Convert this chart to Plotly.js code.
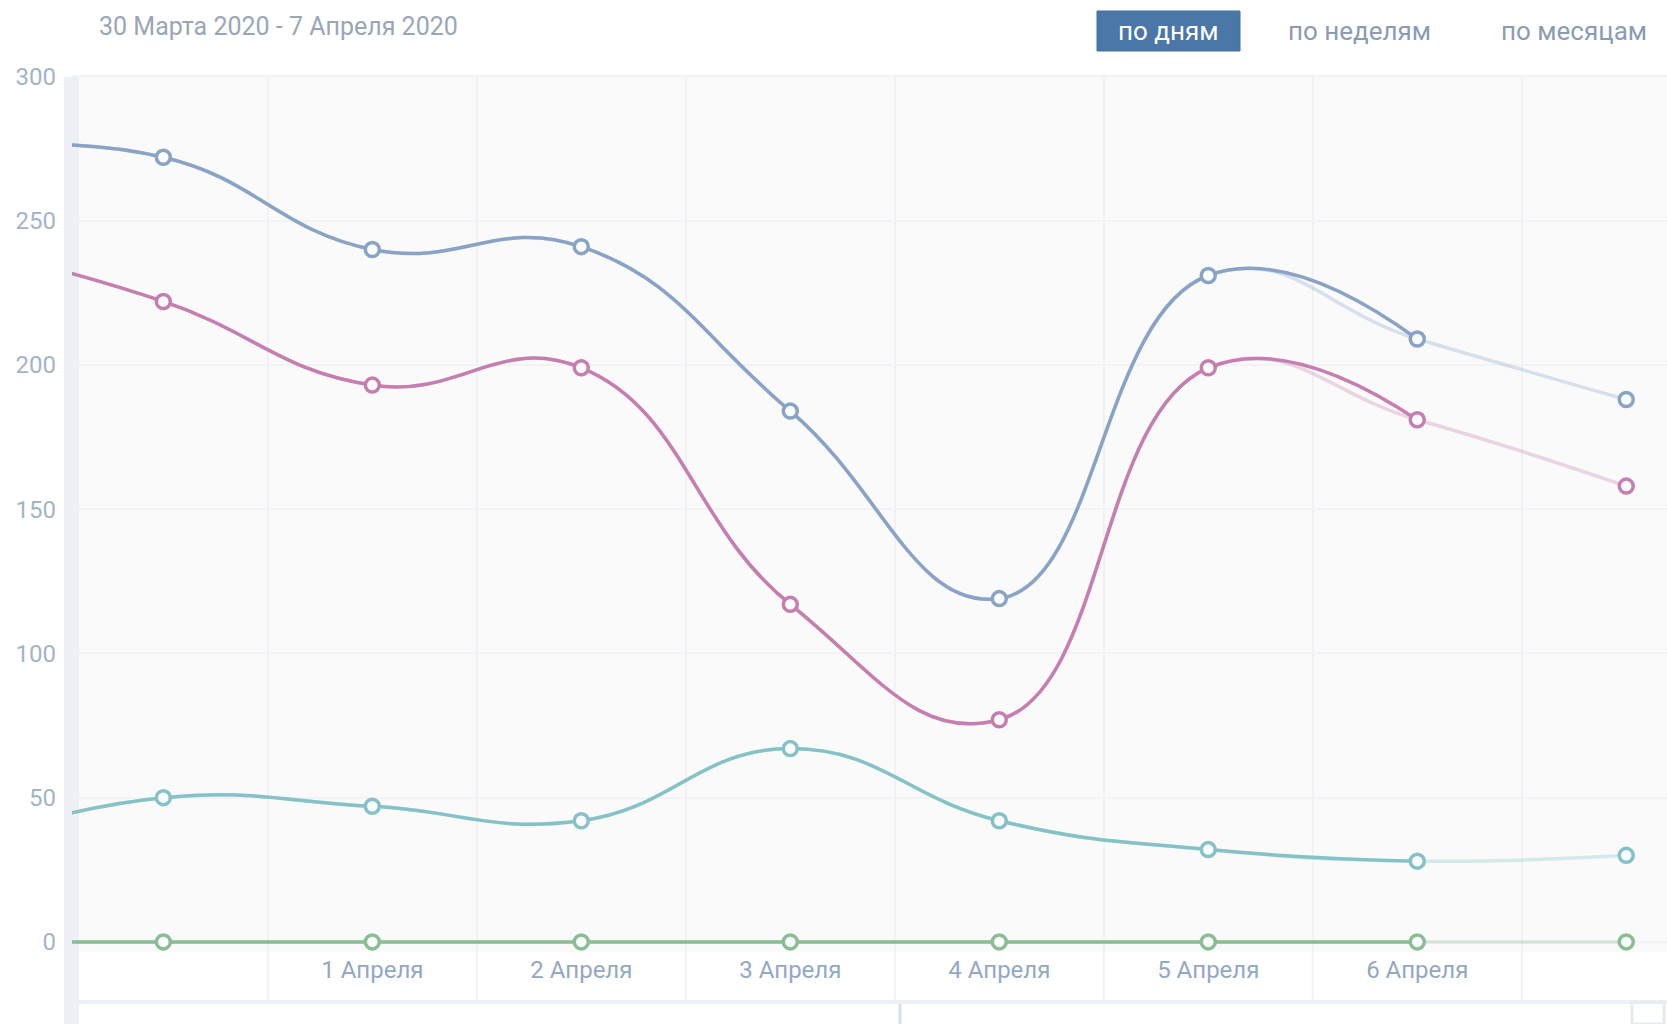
<!DOCTYPE html>
<html>
<head>
<meta charset="utf-8">
<script src="https://cdn.plot.ly/plotly-3.0.1.min.js"></script>
<style>
  html, body { margin: 0; padding: 0; background: #ffffff; }
  #chart { width: 1667px; height: 1024px; }
</style>
</head>
<body>
<div id="chart"></div>
<script>
// ---- data ----
const dayIndex = [0, 1, 2, 3, 4, 5, 6, 7, 8];
const dayLabels = ['30 Марта', '31 Марта', '1 Апреля', '2 Апреля', '3 Апреля', '4 Апреля', '5 Апреля', '6 Апреля', '7 Апреля'];
const shownTickIndex = [2, 3, 4, 5, 6, 7];
const shownTickText = ['1 Апреля', '2 Апреля', '3 Апреля', '4 Апреля', '5 Апреля', '6 Апреля'];
const yTickValues = [0, 50, 100, 150, 200, 250, 300];

const seriesNames = ['Полный охват', 'Охват подписчиков', 'Виральный охват', 'Рекламный охват'];
const fullReach = [275, 272, 240, 241, 184, 119, 231, 209, 188];
const subscriberReach = [242, 222, 193, 199, 117, 77, 199, 181, 158];
const viralReach = [33, 50, 47, 42, 67, 42, 32, 28, 30];
const adReach = [0, 0, 0, 0, 0, 0, 0, 0, 0];

const titleText = '30 Марта 2020 - 7 Апреля 2020';
const periodButtons = ['по дням', 'по неделям', 'по месяцам'];

// ---- styling ----
const FONT = 'Roboto, sans-serif';
const colors = ['#88a3c6', '#c67daf', '#84c2c8', '#8bbd95'];
const allSeries = [fullReach, subscriberReach, viralReach, adReach];
const completeCount = 8; // last day is shown faded
const SMOOTH = 1.3;

const traces = [];
allSeries.forEach((vals, k) => {
  traces.push({
    x: dayIndex, y: vals, type: 'scatter', mode: 'lines',
    line: { color: colors[k], width: 3.5, shape: 'spline', smoothing: SMOOTH },
    opacity: 0.3, hoverinfo: 'skip', showlegend: false, name: seriesNames[k]
  });
  traces.push({
    x: dayIndex.slice(0, completeCount), y: vals.slice(0, completeCount),
    type: 'scatter', mode: 'lines',
    line: { color: colors[k], width: 3.5, shape: 'spline', smoothing: SMOOTH },
    showlegend: false, name: seriesNames[k]
  });
  traces.push({
    x: dayIndex, y: vals, type: 'scatter', mode: 'markers',
    marker: { symbol: 'circle', size: 14, color: '#fbfcfd', line: { color: colors[k], width: 3.5 } },
    showlegend: false, name: seriesNames[k]
  });
});

const W = 1667, H = 1024, mL = 72, mR = 0, mT = 75, mB = 72;
const pw = W - mL - mR, ph = H - mT - mB;
const px = (X) => (X - mL) / pw;
const py = (Y) => (H - mB - Y) / ph;

const gridHalf = [0.5, 1.5, 2.5, 3.5, 4.5, 5.5, 6.5, 7.5];

const shapes = [
  // left axis strip
  { type: 'rect', xref: 'paper', yref: 'paper', x0: px(64), x1: px(79), y0: py(1024), y1: py(77),
    fillcolor: '#edf0f5', line: { width: 0 }, layer: 'below' },
  // bottom navigator line
  { type: 'line', xref: 'paper', yref: 'paper', x0: px(72), x1: px(1667), y0: py(1002), y1: py(1002),
    line: { color: '#edf1f6', width: 4 }, layer: 'below' },
  { type: 'line', xref: 'paper', yref: 'paper', x0: px(900), x1: px(900), y0: py(1004), y1: py(1024),
    line: { color: '#d6dfea', width: 3 }, layer: 'below' },
  { type: 'rect', xref: 'paper', yref: 'paper', x0: px(1632), x1: px(1664), y0: py(1024), y1: py(1002),
    fillcolor: 'rgba(0,0,0,0)', line: { color: '#e6ebf2', width: 3 }, layer: 'below' },
  // selected button
  { type: 'rect', xref: 'paper', yref: 'paper', x0: px(1097), x1: px(1240), y0: py(51), y1: py(11),
    fillcolor: '#4a76a8', line: { color: '#44709f', width: 1 }, layer: 'above' }
];
gridHalf.forEach(v => {
  shapes.push({ type: 'line', xref: 'x', yref: 'paper', x0: v, x1: v, y0: py(1000), y1: 0,
    line: { color: '#f0f2f6', width: 2 }, layer: 'below' });
});

const annotations = [
  { xref: 'paper', yref: 'paper', x: px(97), y: py(27), xanchor: 'left', yanchor: 'middle',
    text: titleText, showarrow: false, font: { size: 25, color: '#9aa6b8', family: FONT } },
  { xref: 'paper', yref: 'paper', x: px(1168.5), y: py(31), xanchor: 'center', yanchor: 'middle',
    text: periodButtons[0], showarrow: false, font: { size: 26, color: '#ffffff', family: FONT } },
  { xref: 'paper', yref: 'paper', x: px(1359), y: py(31), xanchor: 'center', yanchor: 'middle',
    text: periodButtons[1], showarrow: false, font: { size: 26, color: '#8a9cb3', family: FONT } },
  { xref: 'paper', yref: 'paper', x: px(1574), y: py(31), xanchor: 'center', yanchor: 'middle',
    text: periodButtons[2], showarrow: false, font: { size: 26, color: '#8a9cb3', family: FONT } }
];

const layout = {
  width: W, height: H,
  margin: { l: mL, r: mR, t: mT, b: mB, pad: 0 },
  paper_bgcolor: '#ffffff',
  plot_bgcolor: '#fafafa',
  font: { family: FONT, size: 24, color: '#9fb1c8' },
  showlegend: false,
  hovermode: false,
  xaxis: {
    type: 'linear',
    range: [0.563, 8.195],
    tickvals: shownTickIndex,
    ticktext: shownTickText,
    ticks: '',
    showgrid: false,
    zeroline: false,
    showline: false,
    ticklabelstandoff: 1,
    tickfont: { size: 24, color: '#93a8c2' },
    minor: { tickvals: gridHalf, showgrid: true, gridcolor: '#f0f2f6', gridwidth: 2, ticks: '' },
    fixedrange: true
  },
  yaxis: {
    range: [-3.5, 300.5],
    tickvals: yTickValues,
    ticks: '',
    showgrid: true,
    gridcolor: '#f1f3f6',
    gridwidth: 2,
    zeroline: false,
    showline: false,
    ticklabelstandoff: 15,
    tickfont: { size: 24, color: '#a3b4ca' },
    fixedrange: true
  },
  shapes: shapes,
  annotations: annotations
};

Plotly.newPlot('chart', traces, layout, { displayModeBar: false, staticPlot: true });
</script>
</body>
</html>
